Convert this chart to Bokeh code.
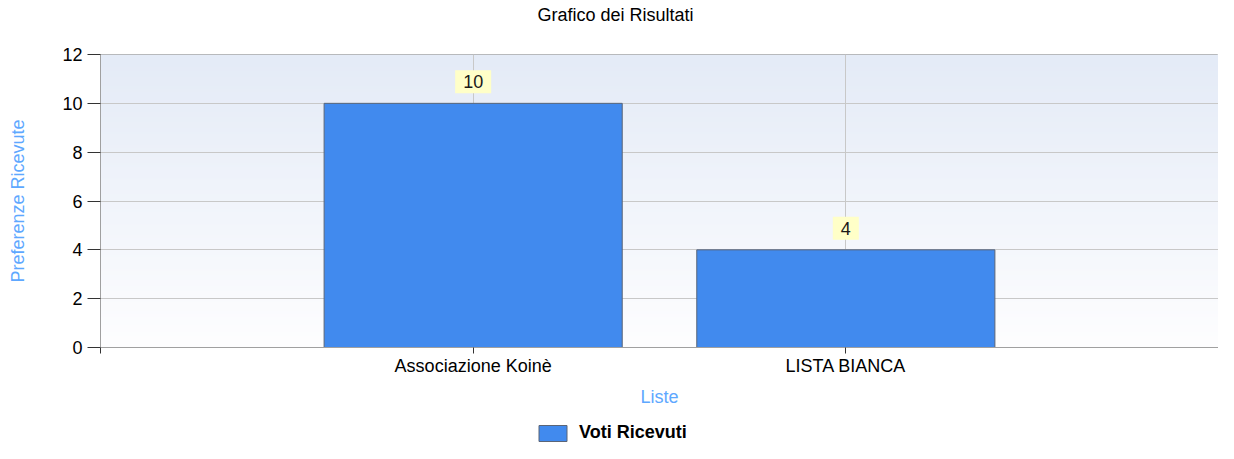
import numpy as np
from bokeh.plotting import figure
from bokeh.layouts import column
from bokeh.models import FixedTicker, Legend, LegendItem, Range1d, Title
from bokeh.core.properties import value
from bokeh.embed import file_html
from bokeh.resources import INLINE

# ---- data ----
categories = ["Associazione Koinè", "LISTA BIANCA"]
votes = [10, 4]
y_ticks = [0, 2, 4, 6, 8, 10, 12]
title_text = "Grafico dei Risultati"
x_title = "Liste"
y_title = "Preferenze Ricevute"
series_name = "Voti Ricevuti"

positions = list(range(1, len(categories) + 1))
x_max = len(categories) + 1
y_max = y_ticks[-1]

FONT = "Liberation Sans"
AXIS_TITLE_COLOR = "#5ea8ff"
BAR_FILL = "#418aee"
BAR_LINE = "#5b6577"

W = 1218
p = figure(width=W, height=410, output_backend="svg", toolbar_location=None,
           x_range=Range1d(0, x_max), y_range=Range1d(0, y_max),
           min_border_left=100, min_border_right=0, min_border_top=0,
           min_border_bottom=63, title=title_text)

p.title.text_font = FONT
p.title.text_font_size = "18px"
p.title.text_font_style = "normal"
p.title.text_color = "#000000"
p.title.align = "left"
p.title.offset = 437
p.title.standoff = 4

# spacer between title and plot frame
spacer = Title(text=" ", text_font=FONT, text_font_size="18px", standoff=6)
p.add_layout(spacer, "above")

# gradient plot background
n = 300
t = np.linspace(0, 1, n)[:, None]
top_c = np.array([228, 235, 247], dtype=float)
bot_c = np.array([254, 254, 255], dtype=float)
rgb = (bot_c + (top_c - bot_c) * t).astype(np.uint32)
img = ((255 << 24) | (rgb[:, 2] << 16) | (rgb[:, 1] << 8) | rgb[:, 0]).astype(np.uint32)
img = img.reshape(n, 1)
p.image_rgba(image=[img], x=0, y=0, dw=x_max, dh=y_max, level="image")

bars = p.vbar(x=positions, top=votes, width=0.8, fill_color=BAR_FILL,
              line_color=BAR_LINE, line_width=1)

p.text(x=positions, y=votes, text=[str(v) for v in votes], anchor="bottom_center",
       y_offset=-10, text_font=value(FONT), text_font_size="18px",
       text_color="#1a1a1a", background_fill_color="#ffffc8",
       padding=dict(left=8, right=8, top=5, bottom=5))

# grids
p.xgrid.ticker = FixedTicker(ticks=positions)
p.ygrid.ticker = FixedTicker(ticks=y_ticks)
p.grid.grid_line_color = "#c8c8c8"
p.grid.grid_line_width = 1

# axes
overrides = {0: "", x_max: ""}
for pos, cat in zip(positions, categories):
    overrides[pos] = cat
p.xaxis.ticker = FixedTicker(ticks=[0] + positions + [x_max])
p.xaxis.major_label_overrides = overrides
p.yaxis.ticker = FixedTicker(ticks=y_ticks)

p.xaxis.axis_label = x_title
p.yaxis.axis_label = y_title
for ax in (p.xaxis[0], p.yaxis[0]):
    ax.axis_label_text_color = AXIS_TITLE_COLOR
    ax.axis_label_text_font = FONT
    ax.axis_label_text_font_size = "18px"
    ax.axis_label_text_font_style = "normal"
    ax.major_label_text_font = FONT
    ax.major_label_text_font_size = "18px"
    ax.major_label_text_color = "#000000"
    ax.axis_line_color = "#a0a0a0"
    ax.major_tick_line_color = "#333333"
    ax.minor_tick_line_color = None
    ax.major_tick_in = 0

p.xaxis.major_tick_out = 6
p.xaxis.major_label_standoff = 2
p.xaxis.axis_label_standoff = 8
p.yaxis.major_tick_out = 13
p.yaxis.major_label_standoff = 5
p.yaxis.axis_label_standoff = 31

p.outline_line_color = "#a9a9a9"
p.background_fill_color = "#ffffff"
p.border_fill_color = "#ffffff"

# ---- legend strip below the chart ----
leg = figure(width=W, height=33, output_backend="svg", toolbar_location=None,
             x_range=Range1d(0, 1), y_range=Range1d(0, 1),
             x_axis_type=None, y_axis_type=None,
             min_border_left=0, min_border_right=0, min_border_top=0,
             min_border_bottom=0)
leg.outline_line_color = None
leg.background_fill_color = "#ffffff"
leg.border_fill_color = "#ffffff"
# hidden renderer: only its legend swatch is drawn
swatch = leg.vbar(x=[0.5], top=[0.5], width=0.1, fill_color=BAR_FILL,
                  line_color=BAR_LINE, line_width=1)
swatch.visible = False
legend = Legend(items=[LegendItem(label=series_name, renderers=[swatch])],
                location=(435, 0), orientation="horizontal",
                glyph_width=35, glyph_height=20, label_standoff=9,
                padding=0, margin=0, border_line_color=None,
                background_fill_alpha=0,
                label_text_font=FONT, label_text_font_size="18px",
                label_text_font_style="bold", label_text_color="#000000")
leg.add_layout(legend)

layout = column(p, leg, spacing=0)
open("out.html", "w").write(file_html(layout, INLINE))
